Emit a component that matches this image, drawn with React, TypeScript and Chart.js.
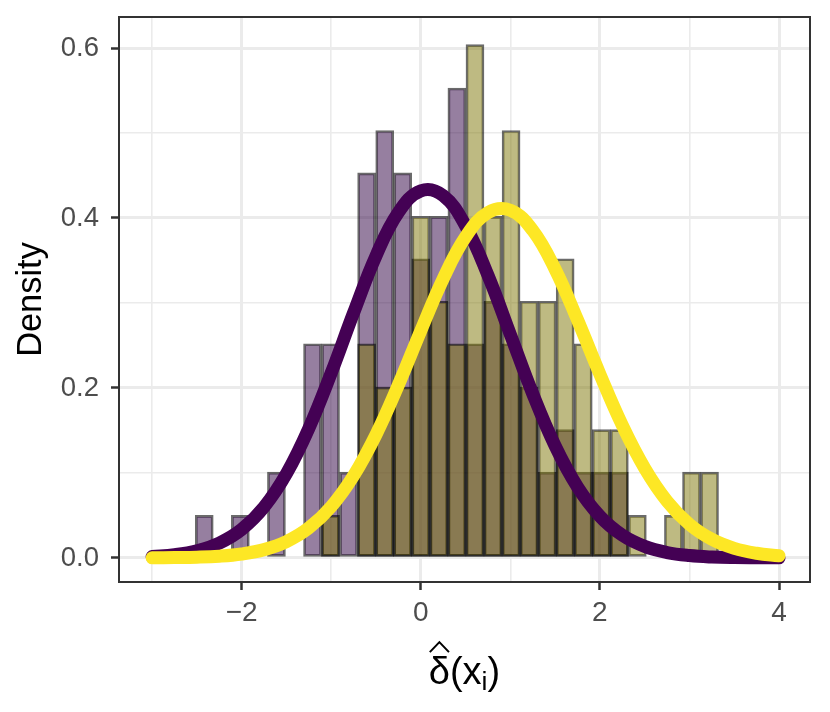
import React, { useEffect, useRef } from "react";
import { Chart, registerables } from "chart.js";

Chart.register(...registerables);

const FONT = '"Liberation Sans", Arial, Helvetica, sans-serif';

// centres of the shared histogram bins
const binCenters = [
  -2.418, -2.217, -2.015, -1.814, -1.612, -1.411, -1.209, -1.008, -0.806, -0.605,
  -0.403, -0.202, 0, 0.202, 0.403, 0.605, 0.806, 1.008, 1.209, 1.411,
  1.612, 1.814, 2.015, 2.217, 2.418, 2.62, 2.821, 3.023, 3.224,
];

// histogram densities, group 1 (purple) and group 2 (yellow)
const purpleDensity = [
  0.05, 0, 0.05, 0, 0.101, 0, 0.252, 0.252, 0.101, 0.453,
  0.503, 0.453, 0.352, 0.402, 0.553, 0.252, 0.302, 0.252, 0.201, 0.101,
  0.151, 0.101, 0.101, 0.101, 0, 0, 0, 0, 0,
];
const yellowDensity = [
  0, 0, 0, 0, 0, 0, 0, 0.05, 0, 0.252,
  0.201, 0.201, 0.402, 0.302, 0.252, 0.604, 0.402, 0.503, 0.302, 0.302,
  0.352, 0.252, 0.151, 0.151, 0.05, 0, 0.05, 0.101, 0.101,
];

// normal density curves
const curveX = [
  -3, -2.75, -2.5, -2.25, -2, -1.75, -1.5, -1.25, -1, -0.75,
  -0.5, -0.25, 0, 0.25, 0.5, 0.75, 1, 1.25, 1.5, 1.75,
  2, 2.25, 2.5, 2.75, 3, 3.25, 3.5, 3.75, 4,
];
const purpleCurve = [
  0.0016, 0.0038, 0.0085, 0.0175, 0.0336, 0.06, 0.0992, 0.1525, 0.2177, 0.2886,
  0.3555, 0.4066, 0.432, 0.4263, 0.3907, 0.3326, 0.263, 0.1932, 0.1318, 0.0835,
  0.0491, 0.0268, 0.0136, 0.0064, 0.0028, 0.0011, 0.0004, 0.0002, 0.0001,
];
const yellowCurve = [
  0.0001, 0.0004, 0.0009, 0.0021, 0.0047, 0.0098, 0.0193, 0.0353, 0.0604, 0.0968,
  0.1451, 0.2036, 0.2674, 0.3286, 0.3778, 0.4064, 0.4091, 0.3854, 0.3397, 0.2801,
  0.2162, 0.1561, 0.1056, 0.0668, 0.0395, 0.0219, 0.0113, 0.0055, 0.0025,
];

const xTicks = [-3, -2, -1, 0, 1, 2, 3, 4];
const xLabels = ["", "\u22122", "", "0", "", "2", "", "4"];
const yTicks = [0, 0.1, 0.2, 0.3, 0.4, 0.5, 0.6];
const yLabels = ["0.0", "", "0.2", "", "0.4", "", "0.6"];

// full panel border like theme_bw
const panelBorder = {
  id: "panelBorder",
  afterDatasetsDraw(chart: Chart) {
    const { ctx, chartArea: a } = chart;
    ctx.save();
    ctx.strokeStyle = "#333333";
    ctx.lineWidth = 2;
    ctx.strokeRect(a.left, a.top, a.right - a.left, a.bottom - a.top);
    ctx.restore();
  },
};

// x title: hat(delta)(x[i])
const xTitle = {
  id: "xTitle",
  afterDraw(chart: Chart) {
    const { ctx, chartArea: a } = chart;
    const size = 38;
    const base = 684;
    ctx.save();
    ctx.fillStyle = "#000";
    ctx.strokeStyle = "#000";
    ctx.textBaseline = "alphabetic";
    ctx.textAlign = "left";
    ctx.font = `${size}px ${FONT}`;
    const wD = ctx.measureText("\u03b4").width;
    const wO = ctx.measureText("(").width;
    const wX = ctx.measureText("x").width;
    const wC = ctx.measureText(")").width;
    ctx.font = `${size * 0.7}px ${FONT}`;
    const wI = ctx.measureText("i").width;
    let x = (a.left + a.right) / 2 - (wD + wO + wX + wI + wC) / 2;

    ctx.font = `${size}px ${FONT}`;
    ctx.fillText("\u03b4", x, base);
    // hat over the delta
    const top = base - size * 0.76;
    ctx.lineWidth = 2;
    ctx.beginPath();
    ctx.moveTo(x + 1, top - 3);
    ctx.lineTo(x + wD / 2, top - 13);
    ctx.lineTo(x + wD - 1, top - 3);
    ctx.stroke();
    x += wD;
    ctx.fillText("(", x, base);
    x += wO;
    ctx.fillText("x", x, base);
    x += wX;
    ctx.font = `${size * 0.7}px ${FONT}`;
    ctx.fillText("i", x, base + 6);
    x += wI;
    ctx.font = `${size}px ${FONT}`;
    ctx.fillText(")", x, base);
    ctx.restore();
  },
};

const App: React.FC = () => {
  const canvasRef = useRef<HTMLCanvasElement | null>(null);
  const chartRef = useRef<Chart | null>(null);

  useEffect(() => {
    const ctx = canvasRef.current?.getContext("2d");
    if (!ctx) return;

    const barStyle = {
      type: "bar" as const,
      grouped: false,
      barPercentage: 1,
      categoryPercentage: 1,
      borderColor: "rgba(0,0,0,0.58)",
      borderWidth: 2,
      borderSkipped: false as const,
    };
    const lineStyle = {
      type: "line" as const,
      borderWidth: 13,
      pointRadius: 0,
      tension: 0.4,
      fill: false,
      borderCapStyle: "round" as const,
      borderJoinStyle: "round" as const,
    };

    chartRef.current = new Chart(ctx, {
      type: "bar",
      data: {
        datasets: [
          {
            ...lineStyle,
            data: curveX.map((x, i) => ({ x, y: yellowCurve[i] })),
            borderColor: "#FDE725",
            order: 0,
          },
          {
            ...lineStyle,
            data: curveX.map((x, i) => ({ x, y: purpleCurve[i] })),
            borderColor: "#440154",
            order: 1,
          },
          {
            ...barStyle,
            data: binCenters.map((x, i) => ({ x, y: yellowDensity[i] })),
            backgroundColor: "rgba(125,117,5,0.5)",
            order: 2,
          },
          {
            ...barStyle,
            data: binCenters.map((x, i) => ({ x, y: purpleDensity[i] })),
            backgroundColor: "rgba(45,0,65,0.5)",
            order: 3,
          },
        ] as any,
      },
      options: {
        animation: false,
        responsive: true,
        maintainAspectRatio: false,
        layout: { padding: { top: 17, right: 20, left: 0, bottom: 0 } },
        plugins: {
          legend: { display: false },
          tooltip: { enabled: false },
        },
        scales: {
          x: {
            type: "linear",
            min: -3.37,
            max: 4.346,
            offset: false,
            afterBuildTicks: (s: any) => {
              s.ticks = xTicks.map((v) => ({ value: v }));
            },
            afterFit: (s: any) => {
              s.height = 130;
              s.paddingLeft = 0;
              s.paddingRight = 0;
            },
            ticks: {
              autoSkip: false,
              maxRotation: 0,
              padding: 6,
              color: "#4D4D4D",
              font: { family: FONT, size: 28 },
              callback: (_v: any, i: number) => xLabels[i],
            },
            grid: {
              offset: false,
              color: "#EBEBEB",
              lineWidth: (c: any) => (xLabels[c.index] ? 3 : 1.6),
              tickLength: 8,
              tickWidth: 2.5,
              tickColor: (c: any) => (xLabels[c.index] ? "#333333" : "rgba(0,0,0,0)"),
            },
            border: { display: false },
          },
          y: {
            type: "linear",
            min: -0.0283,
            max: 0.6365,
            afterBuildTicks: (s: any) => {
              s.ticks = yTicks.map((v) => ({ value: v }));
            },
            afterFit: (s: any) => {
              s.width = 119;
              s.paddingTop = 0;
              s.paddingBottom = 0;
            },
            ticks: {
              autoSkip: false,
              padding: 12,
              color: "#4D4D4D",
              font: { family: FONT, size: 27.5 },
              callback: (_v: any, i: number) => yLabels[i],
            },
            grid: {
              color: "#EBEBEB",
              lineWidth: (c: any) => (yLabels[c.index] ? 3 : 1.6),
              tickLength: 8,
              tickWidth: 2.5,
              tickColor: (c: any) => (yLabels[c.index] ? "#333333" : "rgba(0,0,0,0)"),
            },
            border: { display: false },
            title: {
              display: true,
              text: "Density",
              color: "#000",
              font: { family: FONT, size: 34.4, lineHeight: 1.2 },
              padding: { top: 11, bottom: 0 },
            },
          },
        },
      },
      plugins: [panelBorder, xTitle],
    });

    return () => {
      chartRef.current?.destroy();
      chartRef.current = null;
    };
  }, []);

  return (
    <div style={{ position: "absolute", left: 0, top: 0, width: 830, height: 712, background: "#fff" }}>
      <canvas ref={canvasRef}></canvas>
    </div>
  );
};

export default App;
